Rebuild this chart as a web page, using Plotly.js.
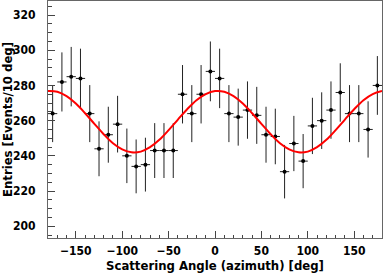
<!DOCTYPE html>
<html>
<head>
<meta charset="utf-8">
<script src="https://cdn.plot.ly/plotly-3.0.1.min.js"></script>
<style>
  html, body { margin: 0; padding: 0; background: #fff; }
  #chart { width: 383px; height: 273px; }
</style>
</head>
<body>
<div id="chart"></div>
<script>
// Bin centres (deg)
const angles = [-175, -165, -155, -145, -135, -125, -115, -105, -95, -85, -75, -65, -55, -45, -35, -25, -15, -5,
                5, 15, 25, 35, 45, 55, 65, 75, 85, 95, 105, 115, 125, 135, 145, 155, 165, 175];
// Entries per bin
const entries = [264, 282, 285, 284, 264, 244, 252, 258, 240, 234, 235, 243, 243, 243, 275, 264, 275, 288,
                 284, 264, 262, 266, 263, 252, 251, 231, 247, 237, 257, 260, 266, 276, 264, 264, 255, 280];
// Vertical error bars
const errors = [16.2, 16.8, 16.9, 16.9, 16.2, 15.6, 15.9, 16.1, 15.5, 15.3, 15.3, 15.6, 15.6, 15.6, 16.6, 16.2, 16.6, 17.0,
                16.9, 16.2, 16.2, 16.3, 16.2, 15.9, 15.8, 15.2, 15.7, 15.4, 16.0, 16.1, 16.3, 16.6, 16.2, 16.2, 16.0, 16.7];
// Half bin width (deg)
const halfBin = 5;
// Fit curve at every 10 deg
const fitAngles = [-180, -170, -160, -150, -140, -130, -120, -110, -100, -90, -80, -70, -60, -50, -40, -30, -20, -10,
                   0, 10, 20, 30, 40, 50, 60, 70, 80, 90, 100, 110, 120, 130, 140, 150, 160, 170, 180];
const fitValues = [276.8, 276.4, 273.9, 269.7, 264.2, 258.2, 252.3, 247.2, 243.7, 242.0, 242.4, 244.9, 249.1, 254.6, 260.6, 266.5, 271.6, 275.1,
                   276.8, 276.4, 273.9, 269.7, 264.2, 258.2, 252.3, 247.2, 243.7, 242.0, 242.4, 244.9, 249.1, 254.6, 260.6, 266.5, 271.6, 275.1, 276.8];

const xTitle = 'Scattering Angle (azimuth) [deg]';
const yTitle = 'Entries [Events/10 deg]';

const FONT = '"Liberation Sans Narrow", "DejaVu Sans Condensed", "Liberation Sans", Arial, sans-serif';

const traces = [
  {
    x: angles, y: entries, type: 'scatter', mode: 'markers',
    marker: { color: '#000', size: 4 },
    error_y: { type: 'data', array: errors, visible: true, color: '#222', thickness: 1, width: 0 },
    error_x: { type: 'constant', value: halfBin, visible: true, color: '#222', thickness: 1, width: 0 },
    cliponaxis: true, hoverinfo: 'skip', showlegend: false
  },
  {
    x: fitAngles, y: fitValues, type: 'scatter', mode: 'lines',
    line: { color: '#ff0000', width: 2, shape: 'spline', smoothing: 1 },
    hoverinfo: 'skip', showlegend: false
  }
];

const axisCommon = {
  showgrid: false, zeroline: false,
  showline: true, mirror: true, linecolor: '#666', linewidth: 1,
  ticks: 'inside', tickcolor: '#444', tickwidth: 1,
  tickfont: { family: FONT, size: 12, color: '#000', weight: 'bold' }
};

const layout = {
  width: 383, height: 273,
  margin: { l: 48, r: 1, t: 1, b: 35 },
  paper_bgcolor: '#fff', plot_bgcolor: '#fff',
  xaxis: Object.assign({}, axisCommon, {
    range: [-180, 180], tick0: 0, dtick: 50, ticklen: 7,
    minor: { dtick: 10, ticklen: 3, ticks: 'inside', tickcolor: '#444', showgrid: false },
    ticklabelstandoff: 2,
    title: { text: xTitle, font: { family: FONT, size: 13, color: '#000', weight: 'bold' }, standoff: 4 }
  }),
  yaxis: Object.assign({}, axisCommon, {
    range: [193.3, 328], tick0: 200, dtick: 20, ticklen: 7,
    minor: { dtick: 5, ticklen: 4, ticks: 'inside', tickcolor: '#444', showgrid: false },
    ticklabelstandoff: 9,
    title: { text: yTitle, font: { family: FONT, size: 13, color: '#000', weight: 'bold' }, standoff: 2 }
  })
};

Plotly.newPlot('chart', traces, layout, { staticPlot: true, displayModeBar: false });
</script>
</body>
</html>
